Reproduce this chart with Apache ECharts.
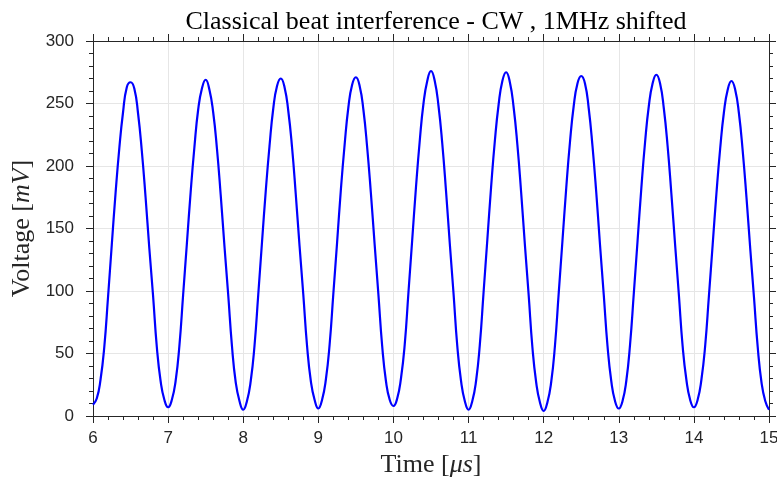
<!DOCTYPE html>
<html>
<head>
<meta charset="utf-8">
<script src="https://cdn.jsdelivr.net/npm/echarts@6/dist/echarts.min.js"></script>
<style>
html, body { margin: 0; padding: 0; background: #fff; }
#chart { width: 777px; height: 480px; }
</style>
</head>
<body>
<div id="chart"></div>
<script>
// voltage in mV, sampled every 0.05 us, one array per microsecond
var cycle6  = [9, 14, 29, 55, 95, 137, 178, 214, 243, 263, 267, 262, 242, 212, 175, 134, 96, 55, 28, 13];
var cycle7  = [7, 13, 28, 56, 97, 138, 179, 215, 245, 262, 269, 261, 243, 214, 177, 136, 97, 56, 27, 12];
var cycle8  = [5, 12, 28, 56, 97, 139, 180, 216, 246, 264, 270, 263, 244, 215, 177, 136, 97, 56, 28, 13];
var cycle9  = [6, 13, 29, 57, 98, 139, 181, 217, 247, 265, 271, 264, 245, 215, 178, 137, 97, 56, 28, 13];
var cycle10 = [8, 14, 30, 57, 99, 141, 183, 220, 250, 268, 276, 268, 248, 218, 180, 138, 98, 56, 28, 12];
var cycle11 = [5, 12, 28, 57, 99, 141, 183, 220, 249, 268, 275, 267, 247, 217, 179, 137, 97, 55, 27, 11];
var cycle12 = [4, 11, 27, 56, 98, 140, 182, 219, 248, 266, 272, 266, 246, 216, 179, 137, 97, 56, 28, 12];
var cycle13 = [6, 12, 28, 57, 98, 140, 182, 219, 248, 266, 273, 266, 246, 216, 178, 137, 97, 56, 29, 13];
var cycle14 = [7, 13, 29, 56, 96, 137, 178, 214, 243, 261, 268, 261, 242, 212, 175, 134, 95, 55, 27, 12];
var lastValue = [5];

var tStart = 6;
var tStep = 0.05;

var voltage = [].concat(cycle6, cycle7, cycle8, cycle9, cycle10, cycle11, cycle12, cycle13, cycle14, lastValue);
var points = voltage.map(function (v, i) {
    return [+(tStart + i * tStep).toFixed(3), v];
});

var axisColor = '#262626';
var gridColor = '#e6e6e6';
var serif = '"Liberation Serif", "DejaVu Serif", serif';
var sans = '"Liberation Sans", Arial, sans-serif';

function boxAxis(extra) {
    var base = {
        type: 'value',
        axisLine: { show: true, onZero: false, lineStyle: { color: axisColor, width: 1 } },
        axisTick: { show: true, inside: false, length: 7, lineStyle: { color: axisColor } },
        minorTick: { show: true, splitNumber: 5, length: 4, lineStyle: { color: axisColor } },
        splitLine: { show: false },
        axisLabel: { show: false }
    };
    return Object.assign(base, extra);
}

var nameRich = {
    n: { fontFamily: serif, fontSize: 26, color: '#262626' },
    i: { fontFamily: serif, fontStyle: 'italic', fontSize: 26, color: '#262626' }
};

var chart = echarts.init(document.getElementById('chart'));
chart.setOption({
    animation: false,
    title: {
        text: 'Classical beat interference - CW , 1MHz shifted',
        left: 431,
        top: 4,
        textAlign: 'center',
        textStyle: { fontFamily: serif, fontWeight: 'normal', fontSize: 26, color: '#000' }
    },
    grid: { left: 93, right: 8, top: 41, bottom: 64, containLabel: false, outerBoundsMode: 'none' },
    xAxis: [
        boxAxis({
            min: 6, max: 15, interval: 1,
            position: 'bottom',
            splitLine: { show: true, lineStyle: { color: gridColor } },
            axisLabel: { show: true, fontFamily: sans, fontSize: 17, color: axisColor, margin: 14 },
            name: '{n|Time [}{i|μs}{n|]}',
            nameLocation: 'middle',
            nameGap: 36,
            nameTextStyle: { rich: nameRich }
        }),
        boxAxis({ min: 6, max: 15, interval: 1, position: 'top' })
    ],
    yAxis: [
        boxAxis({
            min: 0, max: 300, interval: 50,
            position: 'left',
            splitLine: { show: true, lineStyle: { color: gridColor } },
            axisLabel: { show: true, fontFamily: sans, fontSize: 17, color: axisColor, margin: 19 },
            name: '{n|Voltage [}{i|mV}{n|]}',
            nameLocation: 'middle',
            nameGap: 56,
            nameRotate: 90,
            nameTextStyle: { rich: nameRich }
        }),
        boxAxis({ min: 0, max: 300, interval: 50, position: 'right' })
    ],
    series: [{
        type: 'line',
        data: points,
        xAxisIndex: 0,
        yAxisIndex: 0,
        smooth: true,
        showSymbol: false,
        lineStyle: { color: '#0000ff', width: 2.2 }
    }]
});
</script>
</body>
</html>
